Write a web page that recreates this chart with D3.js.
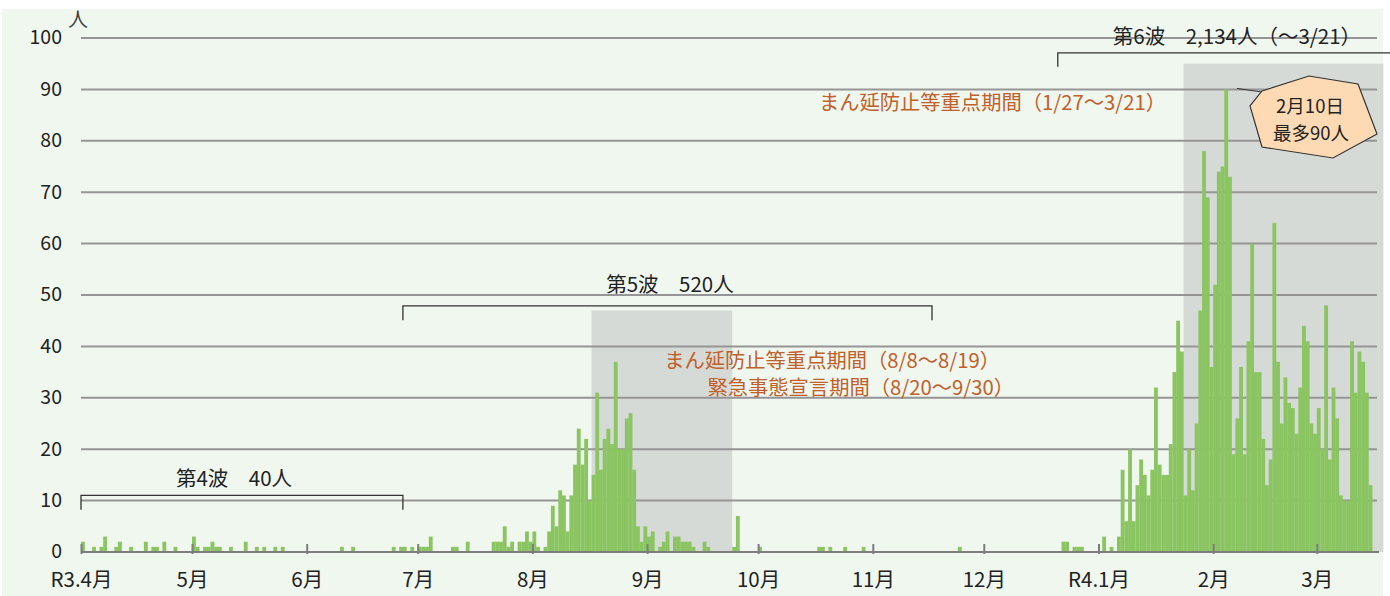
<!DOCTYPE html>
<html>
<head>
<meta charset="utf-8">
<script src="https://cdn.jsdelivr.net/npm/d3@7"></script>
<style>
  body { margin: 0; background: #fff; }
  text { font-family: "Noto Sans CJK JP", "Noto Sans", sans-serif; }
</style>
</head>
<body>
<svg id="chart" width="1390" height="596"></svg>
<script>
// ========== Data ==========
const yTicks = [0, 10, 20, 30, 40, 50, 60, 70, 80, 90, 100];

const monthTicks = ['2021-04-01', '2021-05-01', '2021-06-01', '2021-07-01', '2021-08-01', '2021-09-01',
  '2021-10-01', '2021-11-01', '2021-12-01', '2022-01-01', '2022-02-01', '2022-03-01'];
const monthLabels = ['R3.4月', '5月', '6月', '7月', '8月', '9月', '10月', '11月', '12月', 'R4.1月', '2月', '3月'];

// daily new cases (days with zero are left out)
const casesAprJun = [
  ['2021-04-01', 2], ['2021-04-04', 1], ['2021-04-06', 1], ['2021-04-07', 3], ['2021-04-10', 1],
  ['2021-04-11', 2], ['2021-04-14', 1], ['2021-04-18', 2], ['2021-04-20', 1], ['2021-04-21', 1],
  ['2021-04-23', 2], ['2021-04-26', 1], ['2021-05-01', 3], ['2021-05-02', 1], ['2021-05-04', 1],
  ['2021-05-05', 1], ['2021-05-06', 2], ['2021-05-07', 1], ['2021-05-08', 1], ['2021-05-11', 1],
  ['2021-05-15', 2], ['2021-05-18', 1], ['2021-05-20', 1], ['2021-05-23', 1], ['2021-05-25', 1],
  ['2021-06-10', 1], ['2021-06-13', 1], ['2021-06-24', 1], ['2021-06-26', 1], ['2021-06-27', 1],
  ['2021-06-29', 1]
];
const casesJulSep = [
  ['2021-07-01', 1], ['2021-07-02', 1], ['2021-07-03', 1], ['2021-07-04', 3], ['2021-07-10', 1],
  ['2021-07-11', 1], ['2021-07-14', 2], ['2021-07-21', 2], ['2021-07-22', 2], ['2021-07-23', 2],
  ['2021-07-24', 5], ['2021-07-25', 1], ['2021-07-26', 2], ['2021-07-28', 2], ['2021-07-29', 2],
  ['2021-07-30', 4], ['2021-07-31', 2],
  ['2021-08-01', 4], ['2021-08-02', 1], ['2021-08-04', 1], ['2021-08-05', 4], ['2021-08-06', 9],
  ['2021-08-07', 5], ['2021-08-08', 12], ['2021-08-09', 11], ['2021-08-10', 4], ['2021-08-11', 11],
  ['2021-08-12', 17], ['2021-08-13', 24], ['2021-08-14', 17], ['2021-08-15', 22], ['2021-08-16', 10],
  ['2021-08-17', 15], ['2021-08-18', 31], ['2021-08-19', 16], ['2021-08-20', 22], ['2021-08-21', 24],
  ['2021-08-22', 21], ['2021-08-23', 37], ['2021-08-24', 20], ['2021-08-25', 20], ['2021-08-26', 26],
  ['2021-08-27', 27], ['2021-08-28', 16], ['2021-08-29', 5], ['2021-08-30', 2], ['2021-08-31', 5],
  ['2021-09-01', 3], ['2021-09-02', 4], ['2021-09-04', 1], ['2021-09-05', 2], ['2021-09-06', 4],
  ['2021-09-08', 3], ['2021-09-09', 3], ['2021-09-10', 2], ['2021-09-11', 2], ['2021-09-12', 2],
  ['2021-09-13', 1], ['2021-09-16', 2], ['2021-09-17', 1], ['2021-09-24', 1], ['2021-09-25', 7]
];
const casesOctDec = [
  ['2021-10-01', 1], ['2021-10-17', 1], ['2021-10-18', 1], ['2021-10-20', 1], ['2021-10-24', 1],
  ['2021-10-29', 1], ['2021-11-24', 1], ['2021-12-22', 2], ['2021-12-23', 2], ['2021-12-25', 1],
  ['2021-12-26', 1], ['2021-12-27', 1]
];
const casesJanMar = [
  ['2022-01-02', 3], ['2022-01-04', 1], ['2022-01-06', 3], ['2022-01-07', 16], ['2022-01-08', 6],
  ['2022-01-09', 20], ['2022-01-10', 6], ['2022-01-11', 13], ['2022-01-12', 18], ['2022-01-13', 15],
  ['2022-01-14', 11], ['2022-01-15', 16], ['2022-01-16', 32], ['2022-01-17', 17], ['2022-01-18', 15],
  ['2022-01-19', 15], ['2022-01-20', 21], ['2022-01-21', 35], ['2022-01-22', 45], ['2022-01-23', 39],
  ['2022-01-24', 11], ['2022-01-25', 20], ['2022-01-26', 12], ['2022-01-27', 25], ['2022-01-28', 47],
  ['2022-01-29', 78], ['2022-01-30', 69], ['2022-01-31', 36],
  ['2022-02-01', 52], ['2022-02-02', 74], ['2022-02-03', 75], ['2022-02-04', 90], ['2022-02-05', 73],
  ['2022-02-06', 19], ['2022-02-07', 26], ['2022-02-08', 36], ['2022-02-09', 19], ['2022-02-10', 41],
  ['2022-02-11', 60], ['2022-02-12', 35], ['2022-02-13', 35], ['2022-02-14', 22], ['2022-02-15', 13],
  ['2022-02-16', 18], ['2022-02-17', 64], ['2022-02-18', 37], ['2022-02-19', 25], ['2022-02-20', 34],
  ['2022-02-21', 29], ['2022-02-22', 28], ['2022-02-23', 23], ['2022-02-24', 32], ['2022-02-25', 44],
  ['2022-02-26', 41], ['2022-02-27', 25], ['2022-02-28', 23],
  ['2022-03-01', 28], ['2022-03-02', 20], ['2022-03-03', 48], ['2022-03-04', 18], ['2022-03-05', 32],
  ['2022-03-06', 26], ['2022-03-07', 11], ['2022-03-08', 10], ['2022-03-09', 10], ['2022-03-10', 41],
  ['2022-03-11', 31], ['2022-03-12', 39], ['2022-03-13', 37], ['2022-03-14', 31], ['2022-03-15', 13]
];

// shaded periods: [from, to, height]
const shadedPeriods = [
  ['2021-08-17', '2021-09-24', 47],
  ['2022-01-24', '2022-03-19', 95]
];

// wave brackets: [from, to, label]
const waves = [
  ['2021-04-01', '2021-06-27', '第4波　40人'],
  ['2021-06-27', '2021-11-17', '第5波　520人'],
  ['2021-12-21', '2022-03-22', '第6波　2,134人（～3/21）']
];


// ========== Config ==========
const config = {
  left: 81,
  dayWidth: 3.7,
  axisEnd: 1379,
  gridEnd: 1377,
  top: 38,
  bottom: 552,
  colors: {
    bg: '#f0f7ef',
    shade: '#d6dad7',
    bar: '#8bc562',
    grid: '#959595',
    axis: '#7d7d7d',
    text: '#222',
    orange: '#c0602a',
    callout: '#fddab4'
  }
};

const parse = d3.utcParse('%Y-%m-%d');
const svg = d3.select('#chart');

const x = d3.scaleUtc()
  .domain([parse('2021-04-01'), parse('2022-04-01')])
  .range([config.left, config.left + 365 * config.dayWidth]);

const y = d3.scaleLinear()
  .domain([0, 100])
  .range([config.bottom, config.top]);


// ========== Background ==========
svg.append('rect')
  .attr('x', 2).attr('y', 9)
  .attr('width', 1381).attr('height', 587)
  .attr('fill', config.colors.bg);


// ========== Shaded Periods ==========
svg.append('g')
  .selectAll('rect')
  .data(shadedPeriods)
  .join('rect')
    .attr('x', d => x(parse(d[0])))
    .attr('y', d => y(d[2]))
    .attr('width', d => x(parse(d[1])) - x(parse(d[0])))
    .attr('height', d => y(0) - y(d[2]))
    .attr('fill', config.colors.shade);


// ========== Grid ==========
svg.append('g')
  .selectAll('line')
  .data(yTicks.filter(d => d > 0))
  .join('line')
    .attr('x1', config.left)
    .attr('x2', config.gridEnd)
    .attr('y1', d => y(d))
    .attr('y2', d => y(d))
    .attr('stroke', config.colors.grid)
    .attr('stroke-width', 2);


// ========== Bars ==========
const allCases = [].concat(casesAprJun, casesJulSep, casesOctDec, casesJanMar)
  .map(d => ({date: parse(d[0]), value: d[1]}));

svg.append('g')
  .selectAll('rect')
  .data(allCases)
  .join('rect')
    .attr('x', d => x(d.date))
    .attr('y', d => y(d.value))
    .attr('width', d => x(d3.utcDay.offset(d.date, 1)) - x(d.date) + 0.15)
    .attr('height', d => y(0) - y(d.value))
    .attr('fill', config.colors.bar);


// ========== Axes ==========
const yAxis = svg.append('g')
  .attr('transform', `translate(${config.left},0)`)
  .call(d3.axisLeft(y).tickValues(yTicks).tickSize(0).tickPadding(19));
yAxis.select('.domain').remove();
yAxis.selectAll('text')
  .attr('font-size', 19.5)
  .attr('dy', '0.3em')
  .attr('fill', config.colors.text)
  .style('font-family', '"Noto Sans CJK JP", sans-serif');

svg.append('text')
  .attr('x', 78).attr('y', 27)
  .attr('text-anchor', 'middle')
  .attr('font-size', 20)
  .attr('fill', '#444')
  .text('人');

const xAxis = svg.append('g')
  .attr('transform', `translate(0,${config.bottom})`)
  .call(d3.axisBottom(x)
    .tickValues(monthTicks.map(parse))
    .tickFormat((d, i) => monthLabels[i])
    .tickSize(0)
    .tickPadding(20));
xAxis.select('.domain').remove();
xAxis.append('line')
  .attr('x1', config.left).attr('x2', config.axisEnd)
  .attr('stroke', config.colors.axis)
  .attr('stroke-width', 2);
xAxis.selectAll('.tick line')
  .attr('y1', -8).attr('y2', 2)
  .attr('stroke', config.colors.axis)
  .attr('stroke-width', 2);
xAxis.selectAll('text')
  .attr('font-size', 20.5)
  .attr('fill', config.colors.text)
  .style('font-family', '"Noto Sans CJK JP", sans-serif');


// ========== Wave Brackets ==========
const bracketY = [[11, 8.2, 486], [47.9, 45.1, 292], [97.1, 94.4, 44]];

waves.forEach((w, i) => {
  const x1 = x(parse(w[0]));
  const x2 = Math.min(x(parse(w[1])), 1390);
  const yl = y(bracketY[i][0]);
  const yt = y(bracketY[i][1]);
  const pts = i < 2
    ? [[x1, yt], [x1, yl], [x2, yl], [x2, yt]]
    : [[x1, yt], [x1, yl], [x2, yl]];
  svg.append('path')
    .attr('d', d3.line()(pts))
    .attr('fill', 'none')
    .attr('stroke', '#333')
    .attr('stroke-width', 1.3);
});

const waveLabelX = [234, 670, 1237];
svg.append('g')
  .selectAll('text')
  .data(waves)
  .join('text')
    .attr('x', (d, i) => waveLabelX[i])
    .attr('y', (d, i) => bracketY[i][2])
    .attr('text-anchor', 'middle')
    .attr('font-size', 20.5)
    .attr('fill', config.colors.text)
    .text(d => d[2]);


// ========== Period Notes ==========
const notes = [
  ['まん延防止等重点期間（8/8～8/19）', 1000, 368],
  ['緊急事態宣言期間（8/20～9/30）', 1014, 395],
  ['まん延防止等重点期間（1/27～3/21）', 1166, 110]
];
svg.append('g')
  .selectAll('text')
  .data(notes)
  .join('text')
    .attr('x', d => d[1])
    .attr('y', d => d[2])
    .attr('text-anchor', 'end')
    .attr('font-size', 20.3)
    .attr('fill', config.colors.orange)
    .text(d => d[0]);


// ========== Peak Callout ==========
const peak = allCases.reduce((a, b) => (b.value > a.value ? b : a));
const callout = {cx: 1310, cy: 117};
const calloutShape = [[-48, -26], [-1, -41], [48, -33], [67, 17], [23, 41], [-48, 30], [-60, -11]];

svg.append('line')
  .attr('x1', 1237).attr('y1', y(peak.value) - 1)
  .attr('x2', callout.cx - 48).attr('y2', callout.cy - 25)
  .attr('stroke', '#333')
  .attr('stroke-width', 1);

svg.append('polygon')
  .attr('points', calloutShape.map(p => [callout.cx + p[0], callout.cy + p[1]].join(',')).join(' '))
  .attr('fill', config.colors.callout)
  .attr('stroke', '#333')
  .attr('stroke-width', 1.2);

const calloutText = svg.append('text')
  .attr('text-anchor', 'middle')
  .attr('font-size', 18.5)
  .attr('fill', config.colors.text);
calloutText.append('tspan')
  .attr('x', callout.cx).attr('y', callout.cy - 4)
  .text('2月10日');
calloutText.append('tspan')
  .attr('x', callout.cx + 1).attr('y', callout.cy + 23)
  .text(`最多${peak.value}人`);
</script>
</body>
</html>
